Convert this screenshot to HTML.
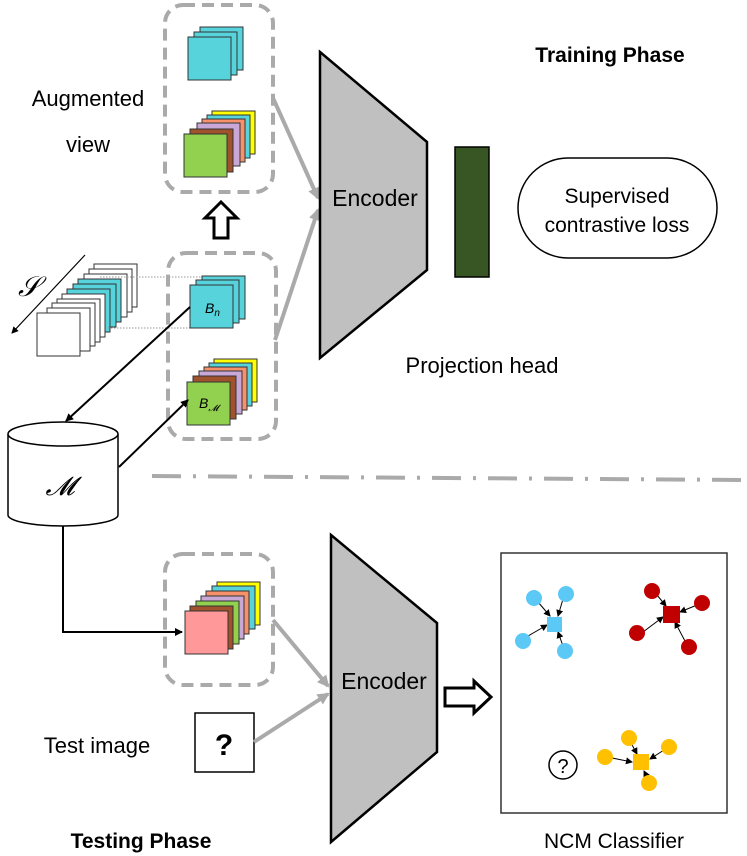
<!DOCTYPE html>
<html><head><meta charset="utf-8"><style>
html,body{margin:0;padding:0;background:#fff;}
svg{display:block;}
text{font-family:"Liberation Sans",sans-serif;fill:#000;}
</style></head><body>
<svg width="747" height="856" viewBox="0 0 747 856" xmlns="http://www.w3.org/2000/svg">
<defs>
<marker id="ab" markerWidth="8" markerHeight="8" refX="7" refY="4" orient="auto" markerUnits="userSpaceOnUse"><path d="M0,0 L8,4 L0,8 Z" fill="#000"/></marker>
<marker id="ag" markerWidth="12" markerHeight="12" refX="10" refY="6" orient="auto" markerUnits="userSpaceOnUse"><path d="M0,0 L12,6 L0,12 Z" fill="#aaa"/></marker>
<marker id="as" markerWidth="7" markerHeight="7" refX="6" refY="3.5" orient="auto" markerUnits="userSpaceOnUse"><path d="M0,0 L7,3.5 L0,7 Z" fill="#000"/></marker>
</defs>

<text x="88" y="106" font-size="22" text-anchor="middle">Augmented</text>
<text x="88" y="152" font-size="22" text-anchor="middle">view</text>
<text x="610" y="62" font-size="21" font-weight="bold" text-anchor="middle">Training Phase</text>

<rect x="165" y="5" width="108" height="187" rx="18" fill="none" stroke="#aaa" stroke-width="4" stroke-dasharray="12,7"/>
<rect x="200" y="27" width="43" height="43" fill="#56d3db" stroke="#333"/>
<rect x="194" y="32" width="43" height="43" fill="#56d3db" stroke="#333"/>
<rect x="188" y="37" width="43" height="43" fill="#56d3db" stroke="#333"/>
<rect x="212" y="111" width="43" height="43" fill="#ffff00" stroke="#333"/>
<rect x="207" y="115" width="43" height="43" fill="#56d3db" stroke="#333"/>
<rect x="202" y="119" width="43" height="43" fill="#f7916b" stroke="#333"/>
<rect x="197" y="123" width="43" height="43" fill="#c9a8d8" stroke="#333"/>
<rect x="190" y="129" width="43" height="43" fill="#a0522d" stroke="#333"/>
<rect x="184" y="134" width="43" height="43" fill="#92d050" stroke="#333"/>

<path d="M221,202 L237,218 L228,218 L228,238 L214,238 L214,218 L205,218 Z" fill="#fff" stroke="#000" stroke-width="3"/>

<line x1="85" y1="255" x2="12" y2="333" stroke="#000" stroke-width="1.2" marker-end="url(#as)"/>
<text x="18" y="296" font-size="28" font-family="Liberation Serif" font-style="italic">𝒮</text>
<g stroke="#333" stroke-width="1">
<rect x="94" y="264" width="43" height="43" fill="#fff"/>
<rect x="89" y="269" width="43" height="43" fill="#fff"/>
<rect x="84" y="274" width="43" height="43" fill="#fff"/>
<rect x="78" y="279" width="43" height="43" fill="#56d3db"/>
<rect x="73" y="284" width="43" height="43" fill="#56d3db"/>
<rect x="67" y="289" width="43" height="43" fill="#56d3db"/>
<rect x="62" y="294" width="43" height="43" fill="#fff"/>
<rect x="57" y="299" width="43" height="43" fill="#fff"/>
<rect x="52" y="303" width="43" height="43" fill="#fff"/>
<rect x="47" y="308" width="43" height="43" fill="#fff"/>
<rect x="37" y="313" width="43" height="43" fill="#fff"/>
</g>
<line x1="100" y1="277" x2="205" y2="277" stroke="#999" stroke-dasharray="1.5,1.5"/>
<line x1="108" y1="328" x2="192" y2="328" stroke="#999" stroke-dasharray="1.5,1.5"/>

<rect x="168" y="253" width="108" height="186" rx="18" fill="none" stroke="#aaa" stroke-width="4" stroke-dasharray="12,7"/>
<rect x="202" y="276" width="43" height="43" fill="#56d3db" stroke="#333"/>
<rect x="196" y="280" width="43" height="43" fill="#56d3db" stroke="#333"/>
<rect x="190" y="285" width="43" height="43" fill="#56d3db" stroke="#333"/>
<text x="205" y="313" font-size="14" font-family="Liberation Serif" font-style="italic">B<tspan font-size="10" dy="3">n</tspan></text>
<rect x="214" y="359" width="43" height="43" fill="#ffff00" stroke="#333"/>
<rect x="209" y="363" width="43" height="43" fill="#56d3db" stroke="#333"/>
<rect x="204" y="367" width="43" height="43" fill="#f7916b" stroke="#333"/>
<rect x="199" y="371" width="43" height="43" fill="#c9a8d8" stroke="#333"/>
<rect x="193" y="376" width="43" height="43" fill="#a0522d" stroke="#333"/>
<rect x="187" y="382" width="43" height="43" fill="#92d050" stroke="#333"/>
<text x="199" y="408" font-size="14" font-family="Liberation Serif" font-style="italic">B<tspan font-size="9" dy="3">𝓜</tspan></text>

<line x1="190" y1="307" x2="66" y2="421" stroke="#000" stroke-width="2" marker-end="url(#ab)"/>
<line x1="119" y1="467" x2="188" y2="400" stroke="#000" stroke-width="2" marker-end="url(#ab)"/>

<path d="M8,434 L8,515 A55,11 0 0 0 118,515 L118,434" fill="#fff" stroke="#000" stroke-width="1.5"/>
<ellipse cx="63" cy="434" rx="55" ry="12" fill="#fff" stroke="#000" stroke-width="1.5"/>
<text x="60" y="495" font-size="26" font-family="Liberation Serif" font-style="italic" text-anchor="middle">𝓜</text>
<polyline points="63,526 63,632 182,632" fill="none" stroke="#000" stroke-width="2" marker-end="url(#ab)"/>

<line x1="273" y1="98" x2="318" y2="198" stroke="#aaa" stroke-width="4" marker-end="url(#ag)"/>
<line x1="275" y1="340" x2="318" y2="210" stroke="#aaa" stroke-width="4" marker-end="url(#ag)"/>

<path d="M320,52 L427,142 L427,270 L320,358 Z" fill="#c0c0c0" stroke="#000" stroke-width="2.5"/>
<text x="375" y="206" font-size="23" text-anchor="middle">Encoder</text>
<rect x="455" y="147" width="34" height="130" fill="#375623" stroke="#000" stroke-width="1.5"/>
<rect x="518" y="158" width="199" height="100" rx="50" fill="#fff" stroke="#000" stroke-width="1.5"/>
<text x="617" y="203" font-size="21" text-anchor="middle">Supervised</text>
<text x="617" y="232" font-size="21" text-anchor="middle">contrastive loss</text>
<text x="482" y="373" font-size="22" text-anchor="middle">Projection head</text>

<line x1="152" y1="476" x2="747" y2="480" stroke="#aaa" stroke-width="4" stroke-dasharray="29,12,3,12"/>

<rect x="165" y="554" width="108" height="131" rx="18" fill="none" stroke="#aaa" stroke-width="4" stroke-dasharray="12,7"/>
<rect x="217" y="582" width="43" height="43" fill="#ffff00" stroke="#333"/>
<rect x="212" y="586" width="43" height="43" fill="#56d3db" stroke="#333"/>
<rect x="206" y="591" width="43" height="43" fill="#f7916b" stroke="#333"/>
<rect x="201" y="596" width="43" height="43" fill="#c9a8d8" stroke="#333"/>
<rect x="196" y="601" width="43" height="43" fill="#92d050" stroke="#333"/>
<rect x="190" y="606" width="43" height="43" fill="#a0522d" stroke="#333"/>
<rect x="185" y="611" width="43" height="43" fill="#ff9999" stroke="#333"/>

<text x="97" y="753" font-size="22" text-anchor="middle">Test image</text>
<rect x="195" y="713" width="59" height="59" fill="#fff" stroke="#000" stroke-width="1.5"/>
<text x="224" y="755" font-size="30" font-weight="bold" text-anchor="middle">?</text>

<line x1="273" y1="620" x2="328" y2="686" stroke="#aaa" stroke-width="4" marker-end="url(#ag)"/>
<line x1="254" y1="742" x2="328" y2="694" stroke="#aaa" stroke-width="4" marker-end="url(#ag)"/>

<path d="M331,535 L437,623 L437,752 L331,842 Z" fill="#c0c0c0" stroke="#000" stroke-width="2.5"/>
<text x="384" y="689" font-size="23" text-anchor="middle">Encoder</text>
<path d="M445,688 L474,688 L474,681 L491,697 L474,713 L474,706 L445,706 Z" fill="#fff" stroke="#000" stroke-width="3"/>

<text x="141" y="848" font-size="21" font-weight="bold" text-anchor="middle">Testing Phase</text>

<rect x="501" y="553" width="226" height="260" fill="#fff" stroke="#333" stroke-width="1.5"/>
<text x="614" y="848" font-size="21" text-anchor="middle">NCM Classifier</text>
<g stroke="#000" stroke-width="1">
<line x1="538" y1="602" x2="550" y2="616" marker-end="url(#as)"/>
<line x1="563" y1="599" x2="558" y2="616" marker-end="url(#as)"/>
<line x1="528" y1="636" x2="547" y2="625" marker-end="url(#as)"/>
<line x1="563" y1="646" x2="558" y2="632" marker-end="url(#as)"/>
<line x1="657" y1="595" x2="666" y2="606" marker-end="url(#as)"/>
<line x1="697" y1="605" x2="680" y2="612" marker-end="url(#as)"/>
<line x1="643" y1="632" x2="663" y2="617" marker-end="url(#as)"/>
<line x1="686" y1="643" x2="675" y2="622" marker-end="url(#as)"/>
<line x1="631" y1="743" x2="637" y2="754" marker-end="url(#as)"/>
<line x1="664" y1="750" x2="650" y2="759" marker-end="url(#as)"/>
<line x1="612" y1="758" x2="632" y2="762" marker-end="url(#as)"/>
<line x1="647" y1="777" x2="644" y2="771" marker-end="url(#as)"/>
</g>
<g fill="#5bc8f5">
<circle cx="534" cy="598" r="8"/><circle cx="566" cy="594" r="8"/><circle cx="523" cy="641" r="8"/><circle cx="565" cy="651" r="8"/>
<rect x="547" y="617" width="15" height="15"/>
</g>
<g fill="#c00000">
<circle cx="652" cy="591" r="8"/><circle cx="702" cy="603" r="8"/><circle cx="637" cy="633" r="8"/><circle cx="689" cy="647" r="8"/>
<rect x="663" y="606" width="17" height="17"/>
</g>
<g fill="#ffc000">
<circle cx="629" cy="738" r="8"/><circle cx="669" cy="747" r="8"/><circle cx="605" cy="757" r="8"/><circle cx="649" cy="783" r="8"/>
<rect x="633" y="754" width="16" height="16"/>
</g>
<circle cx="563" cy="765" r="14" fill="#fff" stroke="#000" stroke-width="1.5"/>
<text x="563" y="773" font-size="20" text-anchor="middle">?</text>
</svg>
</body></html>
